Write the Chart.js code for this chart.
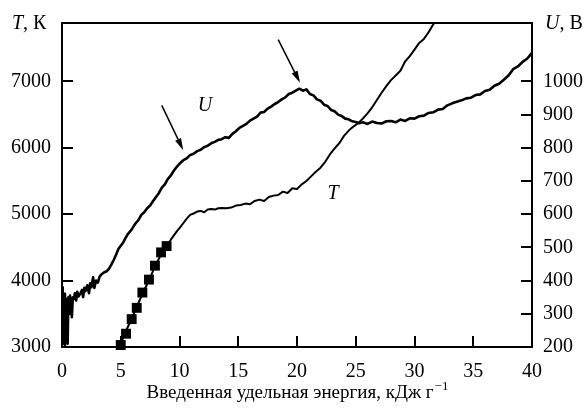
<!DOCTYPE html>
<html>
<head>
<meta charset="utf-8">
<script src="https://cdn.jsdelivr.net/npm/chart.js@4"></script>
<style>
  html, body { margin: 0; padding: 0; background: #fff; }
  canvas { display: block; }
</style>
</head>
<body>
<canvas id="chart" width="585" height="409"></canvas>
<script>
// U (напряжение, правая ось), В
const energyU = [0, 0.04, 0.08, 0.12, 0.16, 0.2, 0.25, 0.3, 0.36, 0.42, 0.48, 0.54, 0.6, 0.68, 0.76,
  0.84, 0.92, 1.0, 1.1, 1.2, 1.3, 1.4, 1.55, 1.7, 1.8, 1.9, 2.0, 2.15, 2.3, 2.4, 2.5, 2.65, 2.75,
  2.9, 3.05, 3.2, 3.4, 3.6, 3.8,
  4.0, 4.2, 4.4, 4.6, 4.8, 5.0, 5.2, 5.4, 5.6, 5.8, 6.0, 6.25, 6.5, 6.75, 7.0, 7.25, 7.5, 7.75,
  8.0, 8.25, 8.5, 8.75, 9.0, 9.25, 9.5, 9.75, 10.0, 10.3, 10.6, 10.9, 11.2, 11.5, 11.8, 12.1,
  12.4, 12.7, 13.0, 13.3, 13.6, 13.9, 14.2, 14.5, 14.8, 15.1, 15.4, 15.7, 16.0, 16.3, 16.6, 16.9,
  17.2, 17.5, 17.8, 18.1, 18.4, 18.7, 19.0, 19.3, 19.6, 19.9, 20.2, 20.5, 20.8, 21.1, 21.4, 21.7,
  22.0, 22.3, 22.6, 22.9, 23.2, 23.5, 23.8, 24.1, 24.4, 24.7, 25.0, 25.3, 25.6, 26.0, 26.4, 26.8,
  27.2, 27.6, 28.0, 28.4, 28.8, 29.2, 29.6, 30.0, 30.4, 30.8, 31.2, 31.6, 32.0, 32.4, 32.8, 33.2,
  33.6, 34.0, 34.4, 34.8, 35.2, 35.6, 36.0, 36.4, 36.8, 37.2, 37.6, 38.0, 38.4, 38.8, 39.2, 39.6, 40.0];
const voltageU = [380, 300, 210, 340, 250, 360, 205, 330, 280, 345, 210, 350, 300, 355, 320,
  290, 350, 345, 362, 340, 366, 352, 360, 372, 350, 378, 368, 386, 362, 392, 380, 410, 378,
  400, 394, 412, 420, 425, 428,
  436, 448, 462, 478, 495, 505, 514, 528, 540, 548, 558, 572, 582, 598, 606, 618, 626, 640,
  652, 664, 680, 690, 706, 716, 730, 742, 752, 762, 768, 778, 782, 790, 794, 802,
  806, 814, 818, 824, 826, 832, 830, 842, 850, 860, 866, 872, 882, 888, 894, 906,
  908, 918, 924, 932, 938, 946, 952, 962, 966, 972, 978, 972, 976, 962, 958, 946,
  942, 930, 926, 914, 910, 900, 896, 888, 886, 880, 878, 874, 877, 872, 879, 875,
  873, 880, 881, 877, 885, 881, 889, 888, 895, 897, 905, 907, 915, 917, 928, 934,
  939, 943, 949, 951, 959, 961, 971, 975, 987, 993, 1005, 1018, 1037, 1045, 1059, 1069, 1086];

// T (температура, левая ось), К
const energyT = [4.75, 5.0, 5.3, 5.5, 5.8, 6.0, 6.3, 6.6, 6.9, 7.2, 7.5, 7.8, 8.1, 8.4, 8.7, 9.0,
  9.2, 9.4, 9.6, 9.8, 10.0, 10.3, 10.6, 10.9, 11.2, 11.5, 11.8, 12.1, 12.4, 12.7, 13.0, 13.3, 13.6,
  14.0, 14.4, 14.8, 15.2, 15.6, 16.0, 16.4, 16.8, 17.2, 17.6, 18.0, 18.4, 18.8, 19.2, 19.6, 20.0,
  20.4, 20.8, 21.2, 21.6, 22.0, 22.4, 22.8, 23.2, 23.6, 24.0, 24.4, 24.8, 25.2, 25.6, 26.0, 26.4,
  26.8, 27.2, 27.6, 28.0, 28.4, 28.8, 29.2, 29.6, 30.0, 30.4, 30.8, 31.2, 31.6, 32.0];
const temperatureT = [2950, 3050, 3180, 3260, 3380, 3450, 3580, 3700, 3820, 3930, 4040, 4170, 4280, 4380, 4470, 4540,
  4600, 4650, 4700, 4750, 4790, 4860, 4930, 4990, 5010, 5040, 5050, 5030, 5070, 5080, 5070, 5090, 5095,
  5090, 5100, 5130, 5140, 5160, 5150, 5200, 5220, 5200, 5260, 5280, 5290, 5340, 5320, 5390, 5380,
  5450, 5500, 5570, 5640, 5700, 5790, 5900, 5990, 6070, 6180, 6260, 6320, 6370, 6440, 6520, 6610,
  6720, 6830, 6930, 7020, 7090, 7160, 7300, 7380, 7480, 7580, 7640, 7740, 7860, 7960];

// квадратные маркеры на T
const energySq = [5.0, 5.45, 5.93, 6.36, 6.84, 7.4, 7.91, 8.43, 8.9];
const temperatureSq = [3030, 3200, 3420, 3590, 3820, 4015, 4225, 4425, 4520];

// деления осей
const ticksE = [0, 5, 10, 15, 20, 25, 30, 35, 40];
const ticksT = [3000, 4000, 5000, 6000, 7000];
const ticksU = [200, 300, 400, 500, 600, 700, 800, 900, 1000];

// стрелки и подписи (в координатах E, U)
const arrows = [
  { from: [8.49, 928], to: [10.32, 793] },
  { from: [18.4, 1126], to: [20.26, 996] }
];
const curveLabels = [
  { text: 'U', at: [12.17, 928] },
  { text: 'T', at: [23.06, 662] }
];

const serif = '"Liberation Serif", "DejaVu Serif", serif';

const zip = (xs, ys) => xs.map((x, i) => ({ x, y: ys[i] }));
const setTicks = (values) => (scale) => {
  scale.ticks = values.map(v => ({ value: v }));
};

const decorPlugin = {
  id: 'decor',
  afterDraw(chart) {
    const { ctx, chartArea: a, scales } = chart;
    const sx = scales.x, sT = scales.yT, sU = scales.yU;
    ctx.save();
    ctx.strokeStyle = '#000';
    ctx.fillStyle = '#000';

    // рамка
    ctx.lineWidth = 2;
    ctx.strokeRect(a.left, a.top, a.right - a.left, a.bottom - a.top);

    // засечки внутрь
    const len = 11;
    ctx.beginPath();
    ticksE.forEach(v => {
      if (v <= sx.min || v >= sx.max) return;
      const px = Math.round(sx.getPixelForValue(v));
      ctx.moveTo(px, a.bottom); ctx.lineTo(px, a.bottom - len);
    });
    ticksT.forEach(v => {
      if (v <= sT.min) return;
      const py = Math.round(sT.getPixelForValue(v));
      ctx.moveTo(a.left, py); ctx.lineTo(a.left + len, py);
    });
    ticksU.forEach(v => {
      if (v <= sU.min) return;
      const py = Math.round(sU.getPixelForValue(v));
      ctx.moveTo(a.right, py); ctx.lineTo(a.right - len, py);
    });
    ctx.stroke();

    // стрелки
    ctx.lineWidth = 1.5;
    arrows.forEach(ar => {
      const x1 = sx.getPixelForValue(ar.from[0]), y1 = sU.getPixelForValue(ar.from[1]);
      const x2 = sx.getPixelForValue(ar.to[0]), y2 = sU.getPixelForValue(ar.to[1]);
      const ang = Math.atan2(y2 - y1, x2 - x1);
      const hl = 12, hw = 3.2;
      const bx = x2 - hl * Math.cos(ang), by = y2 - hl * Math.sin(ang);
      ctx.beginPath();
      ctx.moveTo(x1, y1); ctx.lineTo(bx, by);
      ctx.stroke();
      ctx.beginPath();
      ctx.moveTo(x2, y2);
      ctx.lineTo(bx + hw * Math.sin(ang), by - hw * Math.cos(ang));
      ctx.lineTo(bx - hw * Math.sin(ang), by + hw * Math.cos(ang));
      ctx.closePath();
      ctx.fill();
    });

    // подписи кривых
    ctx.font = 'italic 20px ' + serif;
    ctx.textAlign = 'center';
    ctx.textBaseline = 'middle';
    curveLabels.forEach(l => {
      ctx.fillText(l.text, sx.getPixelForValue(l.at[0]), sU.getPixelForValue(l.at[1]));
    });

    // названия осей
    const axisTitle = (italic, rest, x, y) => {
      ctx.textAlign = 'left';
      ctx.textBaseline = 'alphabetic';
      ctx.font = 'italic 20px ' + serif;
      ctx.fillText(italic, x, y);
      const w = ctx.measureText(italic).width;
      ctx.font = '20px ' + serif;
      ctx.fillText(rest, x + w, y);
    };
    axisTitle('T', ', К', 12, 29);
    axisTitle('U', ', В', 545, 29);

    // подпись оси X с верхним индексом
    const main = 'Введенная удельная энергия, кДж г';
    ctx.font = '19px ' + serif;
    const wMain = ctx.measureText(main).width;
    ctx.font = '13px ' + serif;
    const wSup = ctx.measureText('−1').width;
    const x0 = (a.left + a.right) / 2 - (wMain + wSup) / 2;
    ctx.font = '19px ' + serif;
    ctx.textAlign = 'left';
    ctx.fillText(main, x0, 398);
    ctx.font = '13px ' + serif;
    ctx.fillText('−1', x0 + wMain + 1, 390);

    ctx.restore();
  }
};

const tickFont = { family: serif, size: 20 };

new Chart(document.getElementById('chart'), {
  type: 'scatter',
  data: {
    datasets: [
      {
        label: 'U',
        data: zip(energyU, voltageU),
        yAxisID: 'yU',
        showLine: true,
        borderColor: '#000',
        borderWidth: 2.6,
        pointRadius: 0,
        tension: 0,
        borderJoinStyle: 'round'
      },
      {
        label: 'T',
        data: zip(energyT, temperatureT),
        yAxisID: 'yT',
        showLine: true,
        borderColor: '#000',
        borderWidth: 2,
        pointRadius: 0,
        tension: 0,
        borderJoinStyle: 'round'
      },
      {
        label: 'T points',
        data: zip(energySq, temperatureSq),
        yAxisID: 'yT',
        showLine: false,
        pointStyle: 'rect',
        pointRadius: 7,
        backgroundColor: '#000',
        borderColor: '#000',
        borderWidth: 0,
        clip: 4
      }
    ]
  },
  options: {
    responsive: false,
    animation: false,
    layout: { padding: { top: 9, left: 0, right: 0, bottom: 0 } },
    plugins: {
      legend: { display: false },
      tooltip: { enabled: false }
    },
    scales: {
      x: {
        type: 'linear',
        min: 0,
        max: 40,
        grid: { display: false, drawTicks: false },
        border: { display: false },
        ticks: { padding: 13, maxRotation: 0, autoSkip: false, color: '#000', font: tickFont,
          callback: (v) => String(v) },
        afterBuildTicks: setTicks(ticksE),
        afterFit: (s) => { s.height = 62; }
      },
      yT: {
        type: 'linear',
        position: 'left',
        min: 3000,
        max: 7880,
        grid: { display: false, drawTicks: false },
        border: { display: false },
        ticks: { padding: 11, autoSkip: false, color: '#000', font: tickFont,
          callback: (v) => String(v) },
        afterBuildTicks: setTicks(ticksT),
        afterFit: (s) => { s.width = 62; }
      },
      yU: {
        type: 'linear',
        position: 'right',
        min: 200,
        max: 1176,
        grid: { display: false, drawTicks: false },
        border: { display: false },
        ticks: { padding: 11, autoSkip: false, color: '#000', font: tickFont,
          callback: (v) => String(v) },
        afterBuildTicks: setTicks(ticksU),
        afterFit: (s) => { s.width = 53; }
      }
    }
  },
  plugins: [decorPlugin]
});
</script>
</body>
</html>
